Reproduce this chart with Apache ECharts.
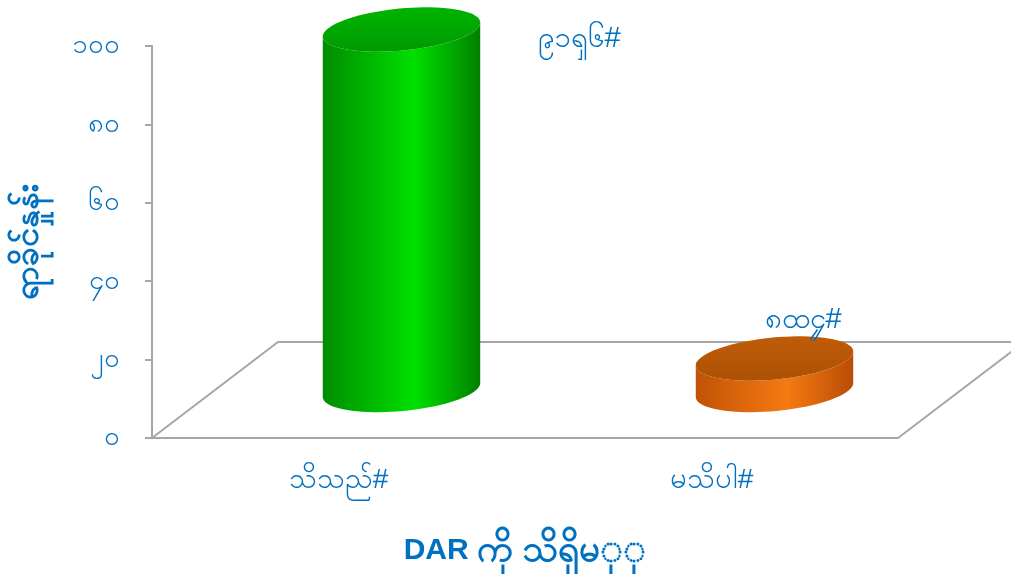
<!doctype html>
<html>
    <head>
        <meta charset="UTF-8">
        <title>DAR</title>
        <script src="https://cdn.jsdelivr.net/npm/echarts@6/dist/echarts.min.js"></script>
        <style>
            html, body { margin: 0; padding: 0; background: #fff; }
        </style>
    </head>
    <body>
        <div id="main" style="width: 1011px;height:574px;"></div>
        <script type="text/javascript">
            // data
            var categories = ['သိသည်#', 'မသိပါ#'];
            var values = [91.96, 8.04];
            var valueLabels = ['၉၁ၡ၆#', '၈ထ၄#'];
            var yTicks = ['၀', '၂၀', '၄၀', '၆၀', '၈၀', '၁၀၀'];

            var blue = '#0070C0';
            var sideColors = [['#008c00', '#00e000', '#008000'], ['#c05206', '#f57a12', '#b94c05']];
            var topColors = [['#009a00', '#00b400'], ['#ad5104', '#bf5c08']];
            var labelOffsets = [[136, 9], [-10, -38]];
            var depth = [126, -96];

            function ellipsePoints(cx, cy, rx, ry, rot, from, to, n) {
                var pts = [];
                for (var i = 0; i <= n; i++) {
                    var t = from + (to - from) * i / n;
                    var ex = rx * Math.cos(t), ey = ry * Math.sin(t);
                    pts.push([cx + ex * Math.cos(rot) - ey * Math.sin(rot),
                              cy + ex * Math.sin(rot) + ey * Math.cos(rot)]);
                }
                return pts;
            }

            var myChart = echarts.init(document.getElementById('main'));

            var option = {
                animation: false,
                grid: { left: 152, right: 113, top: 46, bottom: 136, containLabel: false, outerBoundsMode: 'none' },
                xAxis: {
                    type: 'category',
                    data: categories,
                    axisLine: { lineStyle: { color: '#a6a6a6', width: 2 } },
                    axisTick: { length: 9, lineStyle: { color: '#a6a6a6', width: 2 } },
                    axisLabel: { color: blue, fontSize: 28, margin: 28 },
                    name: '{a|DAR }{b|ကို သိရှိမ\u25CCှ\u25CCု}',
                    nameLocation: 'middle',
                    nameGap: 94,
                    nameTextStyle: {
                        color: blue, fontWeight: 'bold',
                        rich: {
                            a: { color: blue, fontSize: 30, fontWeight: 'bold' },
                            b: { color: blue, fontSize: 37, fontWeight: 'bold' }
                        }
                    }
                },
                yAxis: {
                    type: 'value',
                    min: 0, max: 100, interval: 20,
                    splitLine: { show: false },
                    axisLine: { show: true, lineStyle: { color: '#a6a6a6', width: 2 } },
                    axisTick: { show: true, length: 7, lineStyle: { color: '#a6a6a6', width: 2 } },
                    axisLabel: {
                        color: blue, fontSize: 27, margin: 32,
                        formatter: function (v) { return yTicks[v / 20]; }
                    },
                    name: 'ရာခိုင်နှုန်း',
                    nameLocation: 'middle',
                    nameGap: 106,
                    nameTextStyle: { color: blue, fontSize: 34, fontWeight: 'bold' }
                },
                series: [{
                    // 3D floor
                    type: 'custom',
                    silent: true,
                    data: [[0]],
                    z: 1,
                    renderItem: function (params, api) {
                        var a = api.coord([0, 0]);
                        var b = api.coord([1, 0]);
                        var half = api.size([1, 0])[0] / 2;
                        var x0 = a[0] - half, x1 = b[0] + half, y0 = a[1];
                        var style = { stroke: '#a6a6a6', lineWidth: 2, fill: null };
                        return {
                            type: 'group',
                            children: [
                                { type: 'polyline', shape: { points: [[x0, y0], [x0 + depth[0], y0 + depth[1]], [x1 + depth[0] + 40, y0 + depth[1]]] }, style: style },
                                { type: 'line', shape: { x1: x1, y1: y0, x2: x1 + depth[0], y2: y0 + depth[1] }, style: style }
                            ]
                        };
                    }
                }, {
                    type: 'custom',
                    data: values.map(function (v, i) { return [i, v]; }),
                    z: 3,
                    renderItem: function (params, api) {
                        var i = params.dataIndex;
                        var base = api.coord([api.value(0), 0]);
                        var top = api.coord([api.value(0), api.value(1)]);
                        var cx = base[0] + depth[0] / 2;
                        var by = base[1] + depth[1] / 2;
                        var ty = top[1] + depth[1] / 2;
                        var rx = api.size([1, 0])[0] * 0.212;
                        var ry = 21, rot = -0.095;
                        var upper = ellipsePoints(cx, ty, rx, ry, rot, 0, Math.PI, 40);
                        var lower = ellipsePoints(cx, by, rx, ry, rot, Math.PI, 0, 40);
                        var sc = sideColors[i], tc = topColors[i];
                        var lx = cx + labelOffsets[i][0], ly = ty + labelOffsets[i][1];
                        var kids = [{
                            type: 'polygon',
                            shape: { points: upper.concat(lower) },
                            style: {
                                fill: new echarts.graphic.LinearGradient(0, 0, 1, 0, [
                                    { offset: 0, color: sc[0] },
                                    { offset: 0.58, color: sc[1] },
                                    { offset: 1, color: sc[2] }
                                ])
                            }
                        }, {
                            type: 'polygon',
                            shape: { points: ellipsePoints(cx, ty, rx, ry, rot, 0, Math.PI * 2, 80) },
                            style: {
                                fill: new echarts.graphic.LinearGradient(0, 0, 0, 1, [
                                    { offset: 0, color: tc[1] },
                                    { offset: 1, color: tc[0] }
                                ])
                            }
                        }, {
                            type: 'text',
                            style: {
                                x: lx, y: ly, text: valueLabels[i],
                                fill: blue, fontSize: 29,
                                align: 'left', verticalAlign: 'middle'
                            }
                        }];
                        if (i === 1) {
                            kids.push({ type: 'line', shape: { x1: cx + 36, y1: ty - 19, x2: cx + 43, y2: ty - 29 }, style: { stroke: blue, lineWidth: 1.5 } });
                        }
                        return { type: 'group', children: kids };
                    }
                }]
            };

            myChart.setOption(option);
        </script>
    </body>
</html>
